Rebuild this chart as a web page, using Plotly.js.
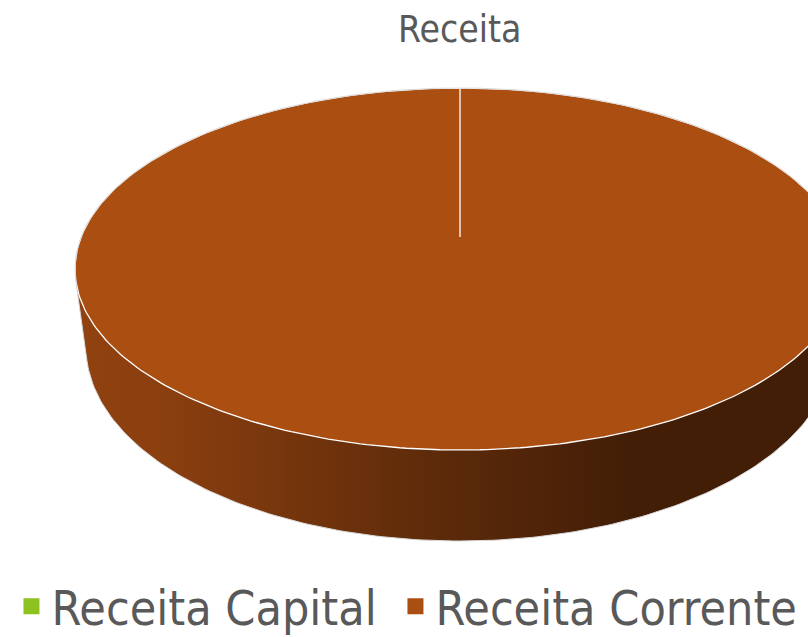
<!DOCTYPE html>
<html><head><meta charset="utf-8">
<script src="https://cdn.plot.ly/plotly-3.0.1.min.js"></script>
<style>html,body{margin:0;padding:0;background:#fff;overflow:hidden}</style>
</head><body><div id="chart" style="width:808px;height:637px"></div>
<script>
// ---- data ----
const categories = ['Receita Capital', 'Receita Corrente'];
const values = [0, 100];
const sliceColors = ['#8DC21F', '#AB4E12'];
const chartTitle = 'Receita';

// ---- 3D pie geometry (layout constants, pixels) ----
const W = 808, H = 637;
const TOP = {cx:460, cy:269, rx:385, ry:181};     // top face ellipse
const BOT = {cx:460, cy:347, rx:374, ry:194};     // bottom rim ellipse (perspective)
const hubDy = -32;
const FONT = '"DejaVu Sans Condensed", "DejaVu Sans", sans-serif';
const TXT = '#595959';

function hexToRgb(h){h=h.replace('#','');return [0,2,4].map(i=>parseInt(h.substr(i,2),16));}
function shade(h,f){const c=hexToRgb(h).map(v=>Math.round(Math.min(255,v*f)));return 'rgb('+c.join(',')+')';}
function pt(E,deg){const t=deg*Math.PI/180;return [E.cx+E.rx*Math.cos(t), E.cy+E.ry*Math.sin(t)];}
function arcPts(E,a0,a1){const out=[];const n=Math.max(1,Math.ceil(Math.abs(a1-a0)));for(let i=0;i<=n;i++)out.push(pt(E,a0+(a1-a0)*i/n));return out;}
function hull(P){
  P=P.slice().sort((a,b)=>a[0]-b[0]||a[1]-b[1]);
  const cr=(o,a,b)=>(a[0]-o[0])*(b[1]-o[1])-(a[1]-o[1])*(b[0]-o[0]);
  const lo=[],up=[];
  for(const p of P){while(lo.length>=2&&cr(lo[lo.length-2],lo[lo.length-1],p)<=0)lo.pop();lo.push(p);}
  for(let i=P.length-1;i>=0;i--){const p=P[i];while(up.length>=2&&cr(up[up.length-2],up[up.length-1],p)<=0)up.pop();up.push(p);}
  up.pop();lo.pop();return lo.concat(up);
}

const total = values.reduce((a,b)=>a+b,0);
const slices = [];
let acc = -90;
values.forEach((v,i)=>{const a0=acc, a1=acc+360*v/total; slices.push({a0,a1,i,v}); acc=a1;});

const traces = [];
const outlines = [];
// side walls
slices.forEach(s=>{
  if(s.v<=0) return;
  const h=hull(arcPts(TOP,s.a0,s.a1).concat(arcPts(BOT,s.a0,s.a1)));
  h.push(h[0]);
  const c=sliceColors[s.i];
  const xs=h.map(p=>p[0]), ys=h.map(p=>p[1]);
  traces.push({type:'scatter',mode:'lines',x:xs,y:ys,
    fill:'toself',line:{color:'rgba(0,0,0,0)',width:0},
    fillgradient:{type:'horizontal',colorscale:[[0,shade(c,0.84)],[0.11,shade(c,0.81)],[0.46,shade(c,0.55)],[0.72,shade(c,0.39)],[1,shade(c,0.39)]]},
    hoverinfo:'skip',showlegend:false});
  outlines.push({type:'scatter',mode:'lines',x:xs,y:ys,line:{color:'#d9d9d9',width:1},hoverinfo:'skip',showlegend:false});
});
// top faces
slices.forEach(s=>{
  const a=arcPts(TOP,s.a0,s.a1);
  const hub=[TOP.cx,TOP.cy+hubDy];
  traces.push({type:'scatter',mode:'lines',x:[hub[0]].concat(a.map(p=>p[0]),[hub[0]]),y:[hub[1]].concat(a.map(p=>p[1]),[hub[1]]),
    fill:'toself',fillcolor:sliceColors[s.i],line:{color:'#ffffff',width:1.3},
    hoverinfo:'skip',showlegend:false});
});
outlines.forEach(o=>traces.push(o));
// legend entries (a trailing no-break space widens the gap between entries)
categories.forEach((name,i)=>{
  traces.push({type:'scatter',mode:'markers',x:[null],y:[null],
    name: i < categories.length-1 ? name + '\u00A0' : name,
    marker:{symbol:'square',size:16,color:sliceColors[i]},showlegend:true,hoverinfo:'skip'});
});

const layout = {
  width:W,height:H,margin:{l:0,r:0,t:0,b:0,autoexpand:false},
  paper_bgcolor:'#ffffff',plot_bgcolor:'#ffffff',
  title:{text:chartTitle,font:{family:FONT,size:37,color:TXT},x:0.569,xanchor:'center',y:0.955,yanchor:'middle'},
  xaxis:{range:[0,W],visible:false,fixedrange:true},
  yaxis:{range:[H,0],visible:false,fixedrange:true},
  showlegend:true,
  legend:{orientation:'h',x:0.0142,xanchor:'left',y:-0.012,yanchor:'bottom',
    font:{family:FONT,size:48,color:TXT},bgcolor:'rgba(0,0,0,0)'},
  hovermode:false
};
Plotly.newPlot('chart',traces,layout,{displayModeBar:false,staticPlot:true});
</script></body></html>
